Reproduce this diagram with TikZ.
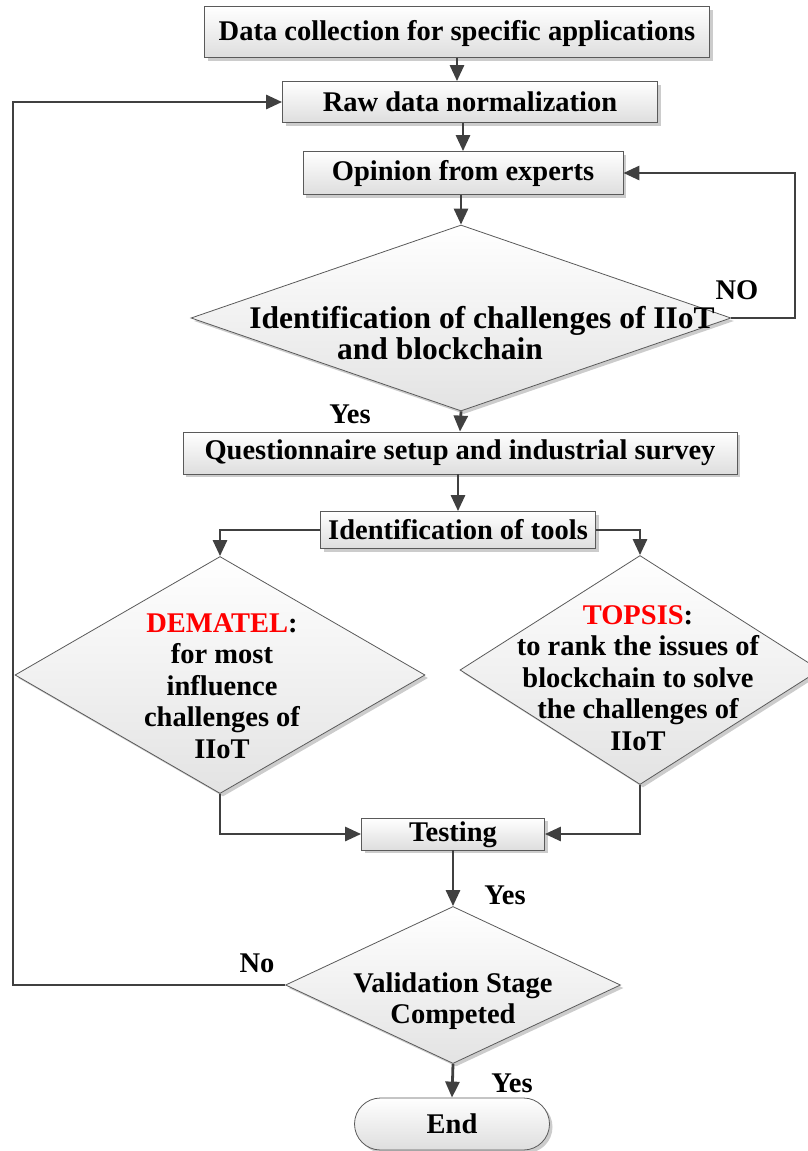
\documentclass[tikz,border=0pt]{standalone}
\usepackage{fontspec}
\setmainfont{Liberation Serif}
\usetikzlibrary{shapes.geometric,shadows,arrows.meta}
\definecolor{lnk}{HTML}{404040}
\definecolor{brd}{HTML}{5A5A5A}
\tikzset{
  procbox/.style={rectangle,draw=brd,line width=0.8pt,top color=white,bottom color=black!13,
    drop shadow={shadow xshift=3pt,shadow yshift=-3pt,fill=black!40,opacity=0.5},inner sep=0pt},
  decbox/.style={diamond,draw=brd,line width=0.8pt,top color=white,bottom color=black!11,
    drop shadow={shadow xshift=3pt,shadow yshift=-3pt,fill=black!40,opacity=0.5},inner sep=0pt},
  txt/.style={font=\fontsize{28.5}{31.5}\selectfont\bfseries,align=center},
  bigtxt/.style={font=\fontsize{31.5}{31.5}\selectfont\bfseries,align=center},
  flow/.style={draw=lnk,line width=2.8pt,-{Triangle[length=16pt,width=14pt]}}
}
\begin{document}
\begin{tikzpicture}[x=1pt,y=-1pt]
	\useasboundingbox (0,0) rectangle (808,1151);
	\node[procbox,minimum width=505,minimum height=51] (coll) at (457,32) {};
	\node[txt] (collt) at (457,33) {Data collection for specific applications};
	\node[procbox,minimum width=375,minimum height=41] (raw) at (470,102) {};
	\node[txt] (rawt) at (raw) {Raw data normalization};
	\node[procbox,minimum width=320,minimum height=43] (opin) at (463,173) {};
	\node[txt] (opint) at (opin) {Opinion from experts};
	\node[decbox,minimum width=540,minimum height=186] (chk) at (461,318) {};
	\node[bigtxt] (chkt) at (482,333) {Identification of challenges of IIoT\\and blockchain\hspace*{84pt}};
	\node[procbox,minimum width=554,minimum height=42] (quest) at (460,453) {};
	\node[txt] (questt) at (quest) {Questionnaire setup and industrial survey};
	\node[procbox,minimum width=275,minimum height=37] (tools) at (458,530) {};
	\node[txt] (toolst) at (tools) {Identification of tools};
	\node[decbox,minimum width=410,minimum height=237] (dem) at (220,675) {};
	\node[txt] (demt) at (222,686) {{\color{red}DEMATEL}:\\for most\\influence\\challenges of\\IIoT};
	\node[decbox,minimum width=360,minimum height=229] (tops) at (640,670) {};
	\node[txt] (topst) at (638,678) {{\color{red}TOPSIS}:\\to rank the issues of\\blockchain to solve\\the challenges of\\IIoT};
	\node[procbox,minimum width=183,minimum height=32] (test) at (453,834) {};
	\node[txt] (testt) at (453,835) {Testing};
	\node[decbox,minimum width=335,minimum height=157] (valid) at (453,985) {};
	\node[txt] (validt) at (453,1001) {Validation Stage\\Competed};
	\node[procbox,rounded corners=26pt,minimum width=195,minimum height=52] (endn) at (452,1124) {};
	\node[txt] (endt) at (endn) {End};
	\coordinate (noR) at (795,318);
	\coordinate (noL) at (13,985);
	\draw[flow] (coll.south) -- (coll.south |- raw.north);
	\draw[flow] (opin.north |- raw.south) -- (opin.north);
	\draw[flow] (chk.north |- opin.south) -- (chk.north);
	\draw[flow] (chk.east) -- (noR) |- (opin.east);
	\draw[flow] (chk.south) -- (quest.north);
	\draw[flow] (tools.north |- quest.south) -- (tools.north);
	\draw[flow] (tools.west) -| (dem.north);
	\draw[flow] (tools.east) -| (tops.north);
	\draw[flow] (dem.south) |- (test.west);
	\draw[flow] (tops.south) |- (test.east);
	\draw[flow] (test.south) -- (valid.north);
	\draw[flow] (valid.west) -- (noL) |- (raw.west);
	\draw[flow] (valid.south) -- (endn.north);
	\node[txt] (lno1) at (737,290) {NO};
	\node[txt] (lyes1) at (350,414) {Yes};
	\node[txt] (lyes2) at (505,895) {Yes};
	\node[txt] (lno2) at (257,963) {No};
	\node[txt] (lyes3) at (512,1083) {Yes};
\end{tikzpicture}
\end{document}
